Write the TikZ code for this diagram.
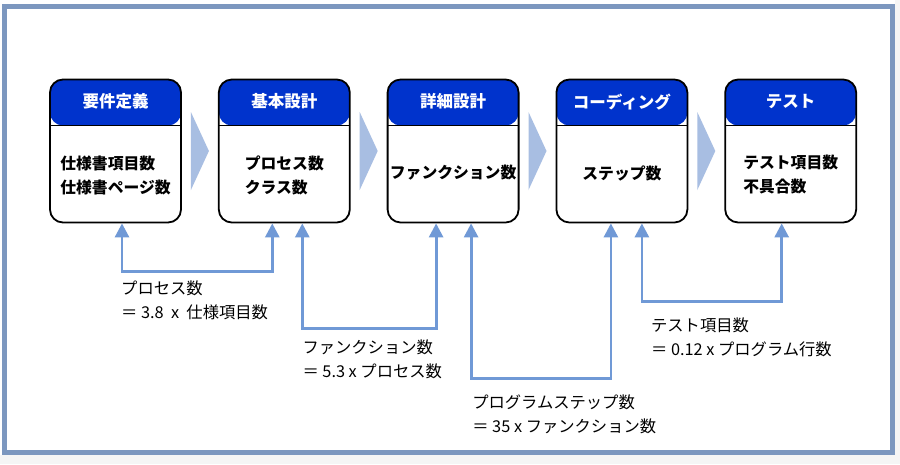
\documentclass[tikz,border=0pt]{standalone}
\usepackage{fontspec}
\setmainfont{Noto Sans CJK JP}
\usetikzlibrary{ arrows.meta, % For the arrow tips
                 positioning, % For easy node-relative placements
                 calc,
               }
\definecolor{hdblue}{HTML}{0033CC}
\definecolor{frameblue}{HTML}{7C97BF}
\definecolor{linkblue}{HTML}{7099D6}
\definecolor{chevblue}{HTML}{A8BEE2}
\tikzset{
  stage/.style = {rectangle, rounded corners=13pt, draw=black, line width=1.8pt,
                  minimum width=131pt, minimum height=143pt, inner sep=0pt,
                  path picture={
                    \fill[hdblue] (path picture bounding box.north west) rectangle
                      ([yshift=-46pt]path picture bounding box.north east);
                    \draw[line width=1.2pt] ([yshift=-46pt]path picture bounding box.north west) --
                      ([yshift=-46pt]path picture bounding box.north east);}},
  title/.style = {text=white, font=\bfseries\fontsize{16.5}{18}\selectfont},
  body/.style = {align=left, font=\bfseries\fontsize{15.8}{24}\selectfont},
  note/.style = {align=left, inner sep=0pt, font=\fontsize{16.3}{24}\selectfont},
  link/.style = {{Triangle[width=14pt,length=14pt]}-{Triangle[width=14pt,length=14pt]},
                 linkblue, line width=2.8pt},
  chevron/.style = {fill=chevblue},
}

\begin{document}
\begin{tikzpicture}[x=1pt, y=-1pt]
  % frame
  \fill[white] (0,0) rectangle (900,464);
  \useasboundingbox (0,0) rectangle (900,464);
  \fill[gray!8] (0,455) rectangle (900,464);
  \fill[gray!8] (895,0) rectangle (900,464);
  \draw[frameblue, line width=5pt] (4.5,6.5) rectangle (892.5,452.5);

  % stages
  \node (req) [stage] at (115.5,151) {};
  \node (basic) [stage, right=36pt of req] {};
  \node (detail) [stage, right=36pt of basic] {};
  \node (coding) [stage, right=36pt of detail] {};
  \node (test) [stage, right=36pt of coding] {};

  \node (reqT) [title] at ([yshift=-23pt]req.north) {要件定義};
  \node (basicT) [title] at ([yshift=-23pt]basic.north) {基本設計};
  \node (detailT) [title] at ([yshift=-23pt]detail.north) {詳細設計};
  \node (codingT) [title] at ([yshift=-23pt]coding.north) {コーディング};
  \node (testT) [title] at ([yshift=-23pt]test.north) {テスト};

  \node (reqB) [body] at ([yshift=-24pt]req.center) {仕様書項目数\\仕様書ページ数};
  \node (basicB) [body] at ([yshift=-24pt]basic.center) {プロセス数\\クラス数};
  \node (detailB) [body] at ([yshift=-22pt]detail.center) {ファンクション数};
  \node (codingB) [body] at ([yshift=-22pt]coding.center) {ステップ数};
  \node (testB) [body] at ([yshift=-24pt]test.center) {テスト項目数\\不具合数};

  % chevrons between stages
  \foreach \a/\b in {req/basic, basic/detail, detail/coding, coding/test}
    \fill[chevron] ($(\a.east)+(9,-39)$) -- ($(\a.east)+(27,0)$) -- ($(\a.east)+(9,39)$) -- cycle;

  % estimation links
  \draw[link] ([xshift=6.5pt]req.south) -- ++(0,48) coordinate (k1) -| ([xshift=-12pt]basic.south);
  \draw[link] ([xshift=18pt]basic.south) -- ++(0,105) coordinate (k2) -| ([xshift=-17pt]detail.south);
  \draw[link] ([xshift=18pt]detail.south) -- ++(0,155) coordinate (k3) -| ([xshift=-11pt]coding.south);
  \draw[link] ([xshift=20pt]coding.south) -- ++(0,78) coordinate (k4) -| ([xshift=-9pt]test.south);

  \node (n1) [note, below right=9.5pt and -1pt of k1] {プロセス数\\＝ 3.8 \ x \ 仕様項目数};
  \node (n2) [note, below right=11.5pt and 0pt of k2] {ファンクション数\\＝ 5.3 x プロセス数};
  \node (n3) [note, below right=16.5pt and 1pt of k3] {プログラムステップ数\\＝ 35 x ファンクション数};
  \node (n4) [note, below right=16.5pt and 9pt of k4] {テスト項目数\\＝ 0.12 x プログラム行数};
\end{tikzpicture}
\end{document}
